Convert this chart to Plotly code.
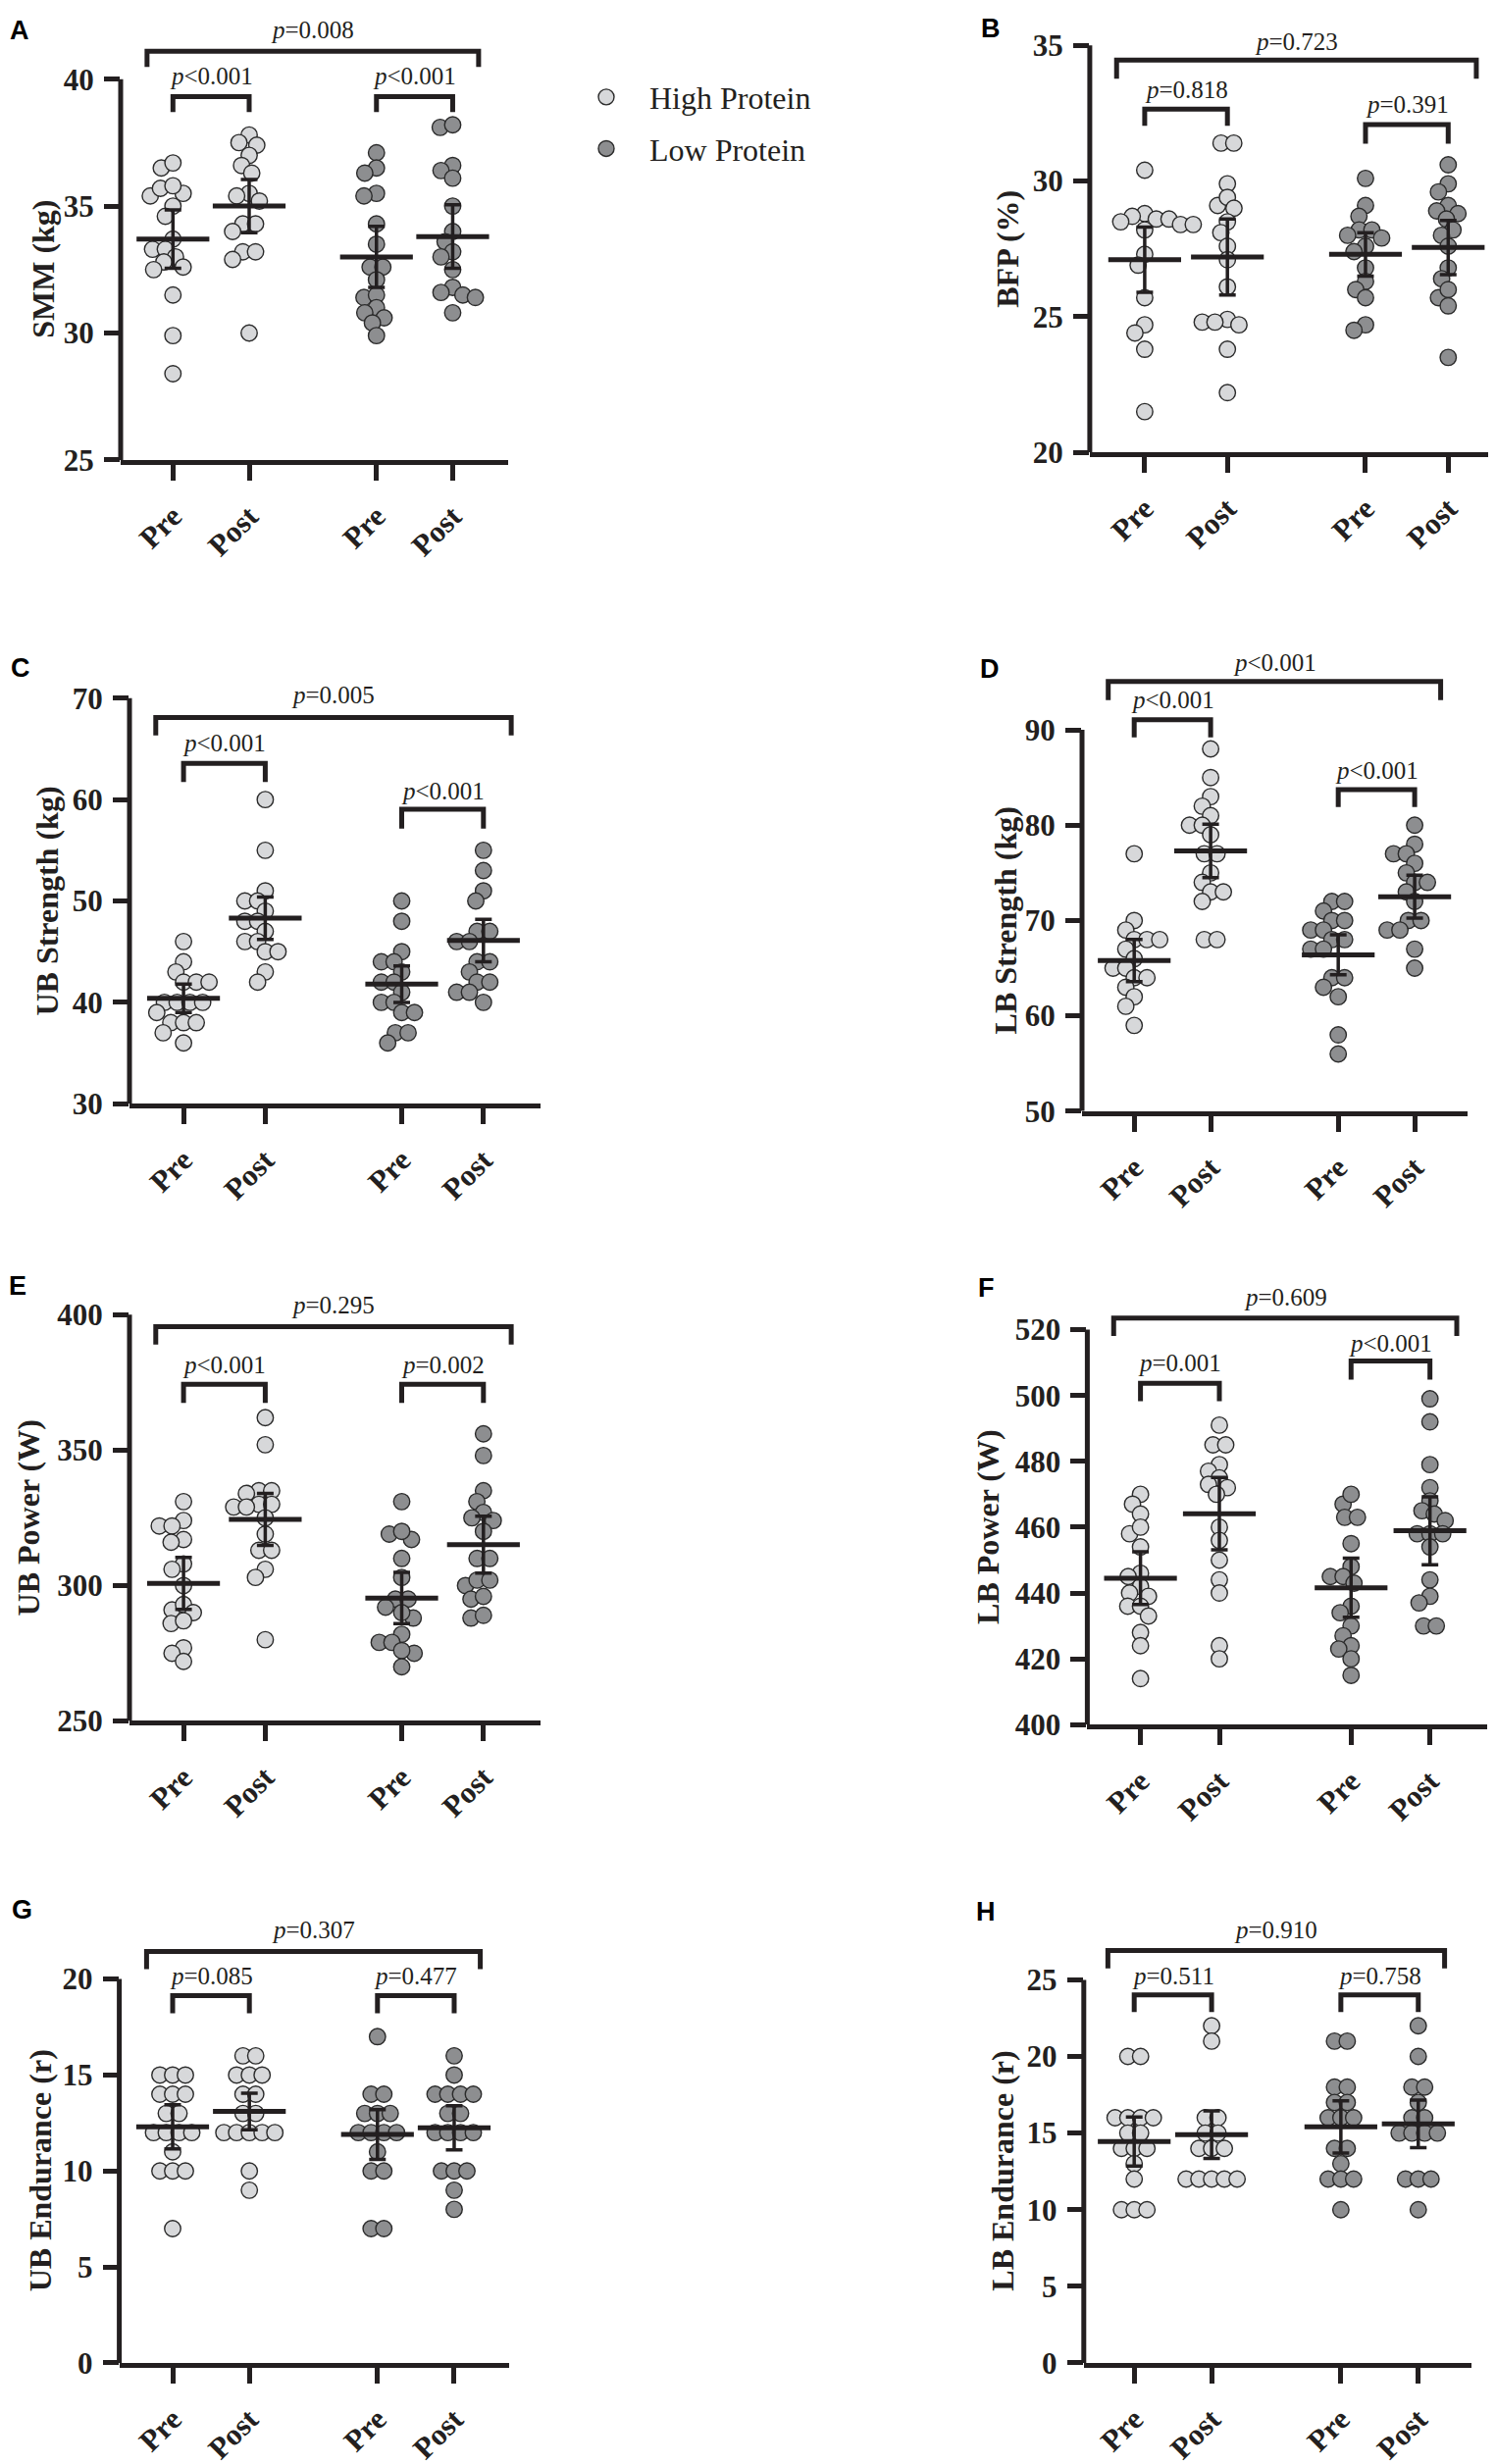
import math
import plotly.graph_objects as go

W, H = 1525, 2512
INK = "#231f20"
HP_FILL = "#d7d8da"
LP_FILL = "#8d8e90"
SERIF = "Liberation Serif"

# column positions on every x axis: Pre / Post (High Protein), Pre / Post (Low Protein)
x_pos = [0, 1, 2.67, 3.67]
tick_text = ["Pre", "Post", "Pre", "Post"]
groups = ["High Protein", "Low Protein"]

# ---- A: skeletal muscle mass
smm_hp_pre = [36.5, 36.7, 35.5, 35.4, 35.7, 35.8, 35.0, 34.6, 33.7, 33.3, 33.3, 33.0, 32.6, 32.8, 32.5, 31.5, 29.9, 28.4]
smm_hp_post = [37.8, 37.5, 37.4, 37.0, 36.6, 36.3, 35.5, 35.4, 35.2, 34.3, 34.3, 34.0, 33.2, 33.2, 32.9, 30.0]
smm_lp_pre = [37.1, 36.5, 36.3, 35.5, 35.4, 34.3, 33.5, 32.6, 32.6, 32.1, 31.4, 31.5, 31.0, 30.8, 30.6, 30.4, 29.9]
smm_lp_post = [38.1, 38.2, 36.6, 36.4, 36.1, 35.0, 34.0, 33.6, 33.2, 33.0, 32.5, 31.8, 31.5, 31.4, 31.6, 30.8]
smm_mean = [33.7, 35.0, 33.0, 33.8]
smm_ci = [1.15, 1.05, 1.2, 1.25]
smm_ticks = [25, 30, 35, 40]
smm_p = ["=0.008", "&lt;0.001", "&lt;0.001"]

# ---- B: body fat percentage
bfp_hp_pre = [30.4, 28.8, 28.7, 28.6, 28.6, 28.5, 28.4, 28.4, 28.2, 27.3, 26.9, 25.7, 24.7, 24.4, 23.8, 21.5]
bfp_hp_post = [31.4, 31.4, 29.9, 29.1, 29.4, 29.0, 28.5, 28.1, 27.6, 27.1, 26.1, 24.8, 24.9, 24.7, 24.8, 23.8, 22.2]
bfp_lp_pre = [30.1, 29.1, 28.7, 28.2, 28.2, 28.0, 27.9, 27.6, 27.4, 26.8, 26.3, 26.0, 25.7, 24.7, 24.5]
bfp_lp_post = [30.6, 29.9, 29.6, 29.1, 28.9, 28.8, 28.6, 28.2, 28.0, 27.6, 26.8, 26.4, 25.7, 26.0, 25.4, 23.5]
bfp_mean = [27.1, 27.2, 27.3, 27.55]
bfp_ci = [1.2, 1.4, 0.8, 1.0]
bfp_ticks = [20, 25, 30, 35]
bfp_p = ["=0.723", "=0.818", "=0.391"]

# ---- C: upper-body strength
ubs_hp_pre = [46, 44, 43, 42, 42, 42, 40, 40, 40, 40, 39, 38, 38, 38, 37, 36]
ubs_hp_post = [60, 55, 51, 50, 50, 49, 48, 48, 47, 46, 46, 45, 45, 43, 42]
ubs_lp_pre = [50, 48, 45, 44, 44, 43, 42, 42, 41, 40, 40, 39, 39, 37, 37, 36]
ubs_lp_post = [55, 53, 51, 50, 47, 47, 46, 46, 44, 44, 43, 42, 42, 41, 41, 40]
ubs_mean = [40.4, 48.3, 41.8, 46.1]
ubs_ci = [1.4, 2.1, 1.8, 2.1]
ubs_ticks = [30, 40, 50, 60, 70]
ubs_p = ["=0.005", "&lt;0.001", "&lt;0.001"]

# ---- D: lower-body strength
lbs_hp_pre = [77, 70, 69, 68, 68, 68, 67, 66, 65, 65, 64, 64, 63, 62, 61, 59]
lbs_hp_post = [88, 85, 83, 82, 81, 80, 80, 79, 77, 77, 75, 74, 73, 73, 72, 68, 68]
lbs_lp_pre = [72, 72, 71, 70, 70, 69, 69, 68, 68, 67, 67, 64, 64, 63, 62, 58, 56]
lbs_lp_post = [80, 78, 77, 77, 76, 75, 74, 74, 73, 72, 70, 70, 69, 69, 67, 65]
lbs_mean = [65.8, 77.3, 66.4, 72.5]
lbs_ci = [2.2, 2.8, 2.1, 2.25]
lbs_ticks = [50, 60, 70, 80, 90]
lbs_p = ["&lt;0.001", "&lt;0.001", "&lt;0.001"]

# ---- E: upper-body power
ubp_hp_pre = [331, 324, 322, 322, 317, 316, 308, 306, 300, 291, 293, 290, 286, 287, 277, 275, 272]
ubp_hp_post = [362, 352, 335, 335, 334, 330, 329, 329, 330, 325, 319, 313, 313, 306, 303, 280]
ubp_lp_pre = [331, 319, 317, 320, 310, 303, 295, 295, 292, 288, 290, 282, 279, 279, 275, 276, 270]
ubp_lp_post = [356, 348, 335, 331, 327, 324, 325, 320, 310, 310, 300, 302, 302, 295, 296, 288, 289]
ubp_mean = [300.8, 324.4, 295.4, 315.1]
ubp_ci = [9.6, 9.6, 9.5, 10.5]
ubp_ticks = [250, 300, 350, 400]
ubp_p = ["=0.295", "&lt;0.001", "=0.002"]

# ---- F: lower-body power
lbp_hp_pre = [470, 467, 464, 458, 460, 454, 446, 445, 442, 439, 440, 436, 436, 433, 428, 424, 414]
lbp_hp_post = [491, 485, 485, 479, 477, 475, 473, 472, 470, 460, 456, 450, 444, 440, 424, 420]
lbp_lp_pre = [467, 470, 463, 463, 455, 448, 445, 445, 443, 436, 434, 430, 427, 424, 423, 420, 415]
lbp_lp_post = [499, 492, 479, 472, 468, 465, 464, 462, 458, 458, 458, 454, 444, 439, 437, 430, 430]
lbp_mean = [444.5, 464.1, 441.6, 458.9]
lbp_ci = [8.0, 11.0, 9.0, 10.3]
lbp_ticks = [400, 420, 440, 460, 480, 500, 520]
lbp_p = ["=0.609", "=0.001", "&lt;0.001"]

# ---- G: upper-body endurance
ube_hp_pre = [15, 15, 15, 14, 14, 14, 13, 13, 12, 12, 12, 12, 11, 10, 10, 10, 7]
ube_hp_post = [16, 16, 15, 15, 15, 14, 14, 13, 13, 12, 12, 12, 12, 12, 10, 9]
ube_lp_pre = [17, 14, 14, 13, 13, 13, 12, 12, 12, 12, 11, 10, 10, 7, 7]
ube_lp_post = [16, 15, 14, 14, 14, 14, 13, 13, 12, 12, 12, 12, 10, 10, 10, 9, 8]
ube_mean = [12.3, 13.1, 11.9, 12.25]
ube_ci = [1.15, 0.95, 1.3, 1.15]
ube_ticks = [0, 5, 10, 15, 20]
ube_p = ["=0.307", "=0.085", "=0.477"]

# ---- H: lower-body endurance
lbe_hp_pre = [20, 20, 16, 16, 16, 16, 15, 15, 14, 14, 14, 13, 12, 10, 10, 10]
lbe_hp_post = [22, 21, 16, 16, 15, 15, 14, 14, 14, 12, 12, 12, 12, 12]
lbe_lp_pre = [21, 21, 18, 18, 17, 17, 16, 16, 16, 14, 14, 13, 12, 12, 12, 10]
lbe_lp_post = [22, 20, 18, 18, 17, 16, 16, 15, 15, 15, 15, 12, 12, 12, 10]
lbe_mean = [14.45, 14.9, 15.4, 15.6]
lbe_ci = [1.6, 1.55, 1.7, 1.55]
lbe_ticks = [0, 5, 10, 15, 20, 25]
lbe_p = ["=0.910", "=0.511", "=0.758"]

panels = [
    ("A", "SMM (kg)", [smm_hp_pre, smm_hp_post, smm_lp_pre, smm_lp_post], smm_mean, smm_ci, smm_ticks, smm_p),
    ("B", "BFP (%)", [bfp_hp_pre, bfp_hp_post, bfp_lp_pre, bfp_lp_post], bfp_mean, bfp_ci, bfp_ticks, bfp_p),
    ("C", "UB Strength (kg)", [ubs_hp_pre, ubs_hp_post, ubs_lp_pre, ubs_lp_post], ubs_mean, ubs_ci, ubs_ticks, ubs_p),
    ("D", "LB Strength (kg)", [lbs_hp_pre, lbs_hp_post, lbs_lp_pre, lbs_lp_post], lbs_mean, lbs_ci, lbs_ticks, lbs_p),
    ("E", "UB Power (W)", [ubp_hp_pre, ubp_hp_post, ubp_lp_pre, ubp_lp_post], ubp_mean, ubp_ci, ubp_ticks, ubp_p),
    ("F", "LB Power (W)", [lbp_hp_pre, lbp_hp_post, lbp_lp_pre, lbp_lp_post], lbp_mean, lbp_ci, lbp_ticks, lbp_p),
    ("G", "UB Endurance (r)", [ube_hp_pre, ube_hp_post, ube_lp_pre, ube_lp_post], ube_mean, ube_ci, ube_ticks, ube_p),
    ("H", "LB Endurance (r)", [lbe_hp_pre, lbe_hp_post, lbe_lp_pre, lbe_lp_post], lbe_mean, lbe_ci, lbe_ticks, lbe_p),
]

# panel geometry in page pixels: axis left/right, first two tick columns, top/bottom tick
geom = {
    "A": dict(left=115, right=510, pre=168.3, post=246, top=73.2, bottom=464.3, title_x=36, letter=(12, 23)),
    "B": dict(left=1102.9, right=1522, pre=1158.9, post=1243.2, top=38.6, bottom=456.4, title_x=1019, letter=(1002, 21)),
    "C": dict(left=124, right=543, pre=179.1, post=262.4, top=708.9, bottom=1125.3, title_x=40, letter=(13, 678)),
    "D": dict(left=1095, right=1488, pre=1148.2, post=1226.1, top=741.4, bottom=1132.9, title_x=1017, letter=(1001, 679)),
    "E": dict(left=124, right=543, pre=179.1, post=262.4, top=1341.9, bottom=1759.1, title_x=21, letter=(10, 1312)),
    "F": dict(left=1100.4, right=1508, pre=1154.6, post=1235, top=1357.3, bottom=1762.9, title_x=999, letter=(997, 1314)),
    "G": dict(left=113.6, right=511, pre=168, post=246.2, top=2024.1, bottom=2418.3, title_x=33, letter=(14, 1953)),
    "H": dict(left=1096.8, right=1492, pre=1148.2, post=1227.1, top=2024.9, bottom=2418.3, title_x=1014, letter=(997, 1955)),
}
# comparison brackets (bar height, leg end, label height) in axis units: overall, HP, LP
brackets = {
    "A": [(41.10, 40.48, 41.92), (39.31, 38.70, 40.14), (39.31, 38.70, 40.14)],
    "B": [(34.46, 33.77, 35.15), (32.65, 32.04, 33.38), (32.08, 31.38, 32.81)],
    "C": [(68.09, 66.33, 70.30), (63.57, 61.73, 65.59), (59.05, 57.13, 60.85)],
    "D": [(95.08, 93.12, 97.04), (91.06, 89.21, 93.12), (83.74, 81.91, 85.69)],
    "E": [(395.6, 389.0, 403.6), (374.3, 367.4, 381.6), (374.3, 367.4, 381.6)],
    "F": [(523.5, 518.1, 530.0), (503.7, 498.3, 509.8), (510.5, 504.8, 515.8)],
    "G": [(21.44, 20.52, 22.57), (19.13, 18.22, 20.16), (19.13, 18.22, 20.16)],
    "H": [(26.91, 25.74, 28.23), (24.01, 22.89, 25.25), (24.01, 22.89, 25.25)],
}
bracket_x = [(-0.34, 4.01), (x_pos[0], x_pos[1]), (x_pos[2], x_pos[3])]


def swarm(values, ppu, gap=13.0):
    """Prism-like dot spreading: horizontal px offsets so centres stay >= gap apart."""
    order = sorted(range(len(values)), key=lambda i: -values[i])
    placed, offs = [], [0.0] * len(values)
    i = 0
    while i < len(order):
        j = i
        while j < len(order) and values[order[j]] == values[order[i]]:
            j += 1
        grp = order[i:j]
        base = [(m - (len(grp) - 1) / 2) * gap for m in range(len(grp))]
        y = values[grp[0]] * ppu
        near = [(px, py) for px, py in placed if abs(py - y) < gap]
        cands = {0.0}
        for px, py in near:
            dx = math.sqrt(gap * gap - (py - y) ** 2)
            for b in base:
                cands.update([px + dx - b, px - dx - b])

        def ok(s):
            return all((b + s - px) ** 2 + (y - py) ** 2 >= gap * gap - 1e-6 for b in base for px, py in near)

        s = min((c for c in cands if ok(c)), key=lambda c: (abs(c), c))
        for m, idx in enumerate(grp):
            offs[idx] = base[m] + s
            placed.append((base[m] + s, y))
        i = j
    return offs


fig = go.Figure()
shapes, annotations = [], []
layout = {}

for n, (letter, title, vals, mean, ci, ticks, plabels) in enumerate(panels, start=1):
    g = geom[letter]
    xa = "x" if n == 1 else f"x{n}"
    ya = "y" if n == 1 else f"y{n}"
    pxu = g["post"] - g["pre"]
    vmin, vmax = ticks[0], ticks[-1]
    ppu = (g["bottom"] - g["top"]) / (vmax - vmin)
    br = brackets[letter]
    top_val = max(b[2] for b in br) + 24 / ppu
    top_px = g["top"] - (top_val - vmax) * ppu
    if top_px < 2:
        top_px = 2
        top_val = vmax + (g["top"] - top_px) / ppu

    layout["xaxis" if n == 1 else f"xaxis{n}"] = dict(
        domain=[g["left"] / W, g["right"] / W], anchor=ya,
        range=[(g["left"] - g["pre"]) / pxu, (g["right"] - g["pre"]) / pxu],
        showline=True, linewidth=5, linecolor=INK, ticks="outside", ticklen=16, tickwidth=5,
        tickcolor=INK, tickvals=x_pos, ticktext=tick_text, tickangle=-45, ticklabelstandoff=6,
        tickfont=dict(family=SERIF, size=31, color=INK, weight="bold"),
        showgrid=False, zeroline=False,
    )
    layout["yaxis" if n == 1 else f"yaxis{n}"] = dict(
        domain=[1 - g["bottom"] / H, 1 - top_px / H], anchor=xa,
        range=[vmin, top_val], showline=False, ticks="outside", ticklen=16, tickwidth=5,
        tickcolor=INK, tickvals=ticks, ticklabelstandoff=4,
        tickfont=dict(family=SERIF, size=31, color=INK, weight="bold"),
        showgrid=False, zeroline=False,
    )
    # y axis line only up to the top tick
    shapes.append(dict(type="line", xref=f"{xa} domain", yref=ya, x0=0, x1=0, y0=vmin, y1=vmax,
                       line=dict(color=INK, width=5)))

    for k, (name, fill) in enumerate(zip(groups, [HP_FILL, LP_FILL])):
        pre, post = vals[2 * k], vals[2 * k + 1]
        xs, ys = [], []
        for col, arr in ((2 * k, pre), (2 * k + 1, post)):
            offs = swarm(arr, ppu)
            xs += [x_pos[col] + o / pxu for o in offs]
            ys += list(arr)
        fig.add_trace(go.Scatter(
            x=xs, y=ys, mode="markers", name=name, legendgroup=name, showlegend=(n == 1),
            marker=dict(size=16.5, color=fill, line=dict(color="#2b2b2b", width=1.4)),
            xaxis=xa, yaxis=ya, hoverinfo="y",
        ))

    fig.add_trace(go.Scatter(
        x=x_pos, y=mean, mode="markers", showlegend=False, xaxis=xa, yaxis=ya, hoverinfo="y",
        marker=dict(symbol="line-ew", size=53, color=INK, line=dict(color=INK, width=5)),
        error_y=dict(type="data", array=ci, visible=True, color=INK, thickness=3.5, width=8.5),
    ))

    for (x0, x1), (bar, leg, ty), lab in zip(bracket_x, br, plabels):
        shapes.append(dict(type="path", xref=xa, yref=ya,
                           path=f"M {x0},{leg} L {x0},{bar} L {x1},{bar} L {x1},{leg}",
                           line=dict(color=INK, width=5)))
        annotations.append(dict(xref=xa, yref=ya, x=(x0 + x1) / 2, y=ty, text=f"<i>p</i>{lab}",
                                showarrow=False, xanchor="center", yanchor="middle",
                                font=dict(family=SERIF, size=25, color=INK)))

    annotations.append(dict(xref=f"{xa} domain", yref=ya, x=0, xshift=-(g["left"] - g["title_x"]),
                            y=(vmin + vmax) / 2, text=title, textangle=-90, showarrow=False,
                            xanchor="center", yanchor="middle",
                            font=dict(family=SERIF, size=32, color=INK, weight="bold")))
    annotations.append(dict(xref="paper", yref="paper", x=g["letter"][0] / W, y=1 - g["letter"][1] / H,
                            text=letter, showarrow=False, xanchor="center", yanchor="middle",
                            font=dict(family="Liberation Sans", size=27, color="#000000", weight="bold")))

fig.update_layout(
    width=W, height=H,
    margin=dict(l=0, r=0, t=0, b=0),
    paper_bgcolor="white", plot_bgcolor="white",
    font=dict(family=SERIF, color=INK),
    shapes=shapes, annotations=annotations,
    legend=dict(x=566 / W, y=1 - 64 / H, xanchor="left", yanchor="top",
                font=dict(family=SERIF, size=32, color=INK), itemwidth=78,
                tracegroupgap=8, bgcolor="rgba(0,0,0,0)"),
    **layout,
)
fig.write_html("out.html")
